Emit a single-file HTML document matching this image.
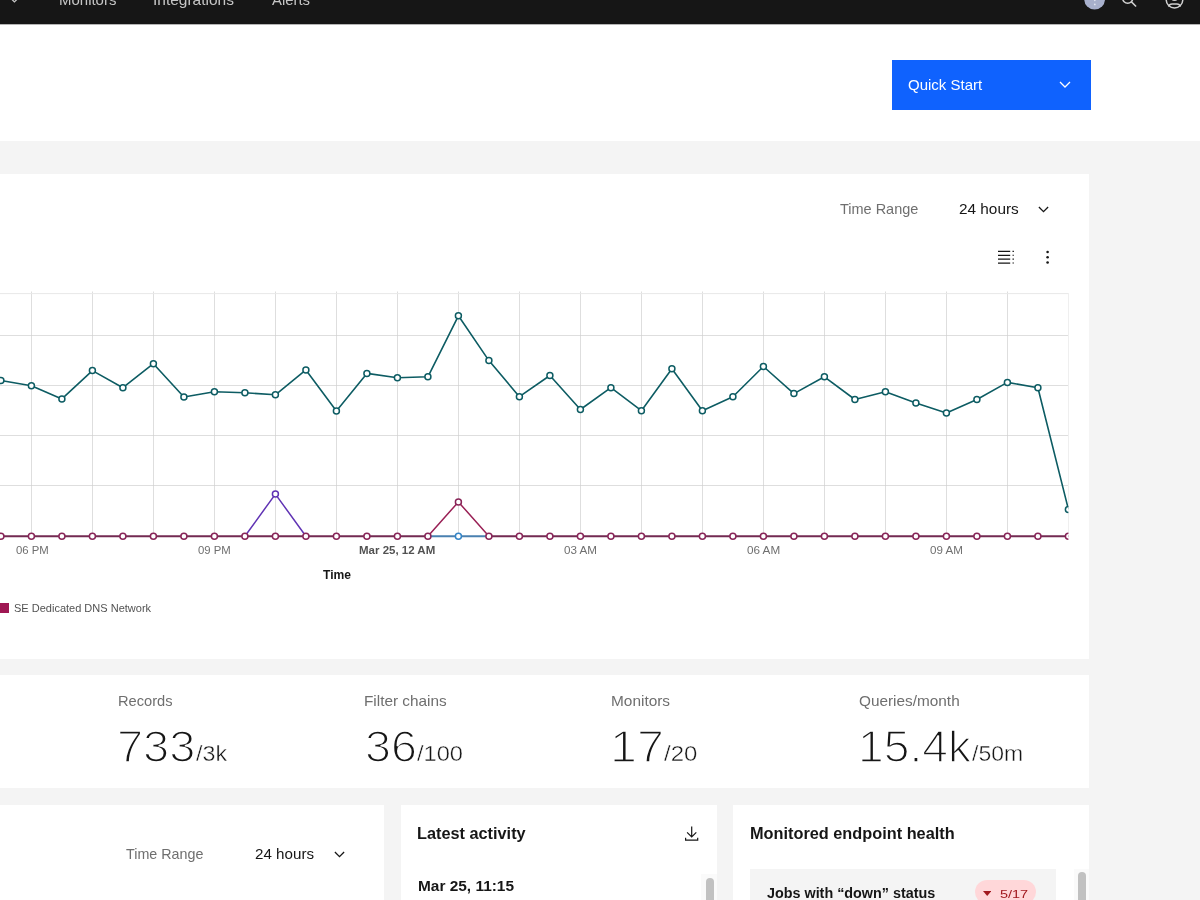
<!DOCTYPE html>
<html lang="en">
<head>
<meta charset="utf-8">
<title>Dashboard</title>
<style>
*{box-sizing:border-box;margin:0;padding:0}
html,body{width:1200px;height:900px;overflow:hidden;background:#f4f4f4;font-family:"Liberation Sans",sans-serif;color:#161616}
.abs{position:absolute}
#page{position:relative;width:1200px;height:900px;overflow:hidden}
.t{position:absolute;white-space:nowrap;line-height:1;transform-origin:0 0}
.hdr{left:0;top:0;width:1200px;height:24px;background:#161616;overflow:hidden}
.band{left:0;top:24px;width:1200px;height:117px;background:#fff}
.qs{left:892px;top:60px;width:199px;height:49.5px;background:#0f62fe}
.card{background:#fff}
</style>
</head>
<body>
<div id="page">
  <div class="abs hdr">
<div class="t" style="left:59.40px;top:-6.97px;font-size:14.5px;color:#c6c6c6;transform:scaleX(1.0326);">Monitors</div>
<div class="t" style="left:153.31px;top:-6.97px;font-size:14.5px;color:#c6c6c6;transform:scaleX(1.0683);">Integrations</div>
<div class="t" style="left:272.20px;top:-6.97px;font-size:14.5px;color:#c6c6c6;transform:scaleX(1.0263);">Alerts</div>

    <svg class="abs" style="left:0;top:0" width="1200" height="25" viewBox="0 0 1200 25">
      <path d="M10.6 -1.9 L14.4 1.9 L18.2 -1.9" fill="none" stroke="#c6c6c6" stroke-width="1.3"/>
      <circle cx="1094.6" cy="-0.8" r="10.4" fill="#a8b0cc"/>
      <circle cx="1094.8" cy="0.4" r="0.8" fill="#dfe3ef"/><circle cx="1094.8" cy="4.4" r="0.9" fill="#dfe3ef"/>
      <circle cx="1127.7" cy="-1.9" r="5.1" fill="none" stroke="#d0d0d0" stroke-width="1.5"/>
      <path d="M1131.2 1.6 L1136.1 6.5" stroke="#d0d0d0" stroke-width="1.5"/>
      <circle cx="1174.5" cy="-0.3" r="8.3" fill="none" stroke="#d0d0d0" stroke-width="1.5"/>
      <circle cx="1174.5" cy="-2.4" r="2.7" fill="none" stroke="#d0d0d0" stroke-width="1.5"/>
      <path d="M1168.7 6.6 Q1169.3 4.1 1172 4.1 H1177 Q1179.7 4.1 1180.3 6.6" fill="none" stroke="#d0d0d0" stroke-width="1.5"/>
    </svg>
  </div>
  <div class="abs band"></div>
  <div class="abs" style="left:0;top:24px;width:1200px;height:1px;background:#b4b4b4"></div>
  <div class="abs qs">
    <svg class="abs" style="left:167px;top:21px" width="12" height="8" viewBox="0 0 12 8"><path d="M1 1 L6 6 L11 1" fill="none" stroke="#fff" stroke-width="1.3"/></svg>
  </div>

  <!-- chart card -->
  <div class="abs card" style="left:0;top:174px;width:1089px;height:485px"></div>
  <svg class="abs" style="left:1037px;top:205px" width="13" height="9" viewBox="0 0 13 9"><path d="M1.9 2 L6.5 6.6 L11.1 2" fill="none" stroke="#161616" stroke-width="1.3"/></svg>
  <svg class="abs" style="left:990px;top:240px" width="70" height="35" viewBox="990 240 70 35">
    <path d="M998 251.4H1010.2M998 255.3H1010.2M998 259.15H1010.2M998 263H1010.2" stroke="#161616" stroke-width="1.25"/>
    <path d="M1012.5 251.4H1013.9M1012.5 255.3H1013.9M1012.5 259.15H1013.9M1012.5 263H1013.9" stroke="#161616" stroke-width="1.1"/>
    <circle cx="1047.6" cy="252" r="1.3" fill="#161616"/><circle cx="1047.6" cy="257.25" r="1.3" fill="#161616"/><circle cx="1047.6" cy="262.5" r="1.3" fill="#161616"/>
  </svg>
  <div class="abs" style="left:0;top:602.6px;width:8.6px;height:10.8px;background:#9f1853"></div>

  <!-- stats -->
  <div class="abs card" style="left:0;top:675px;width:1089px;height:113px"></div>

  <!-- bottom row -->
  <div class="abs card" style="left:0;top:805px;width:384.3px;height:100px"></div>
  <svg class="abs" style="left:332.7px;top:850.2px" width="13" height="9" viewBox="0 0 13 9"><path d="M1.9 2 L6.5 6.6 L11.1 2" fill="none" stroke="#161616" stroke-width="1.3"/></svg>

  <div class="abs card" style="left:401px;top:805px;width:316px;height:100px"></div>
  <svg class="abs" style="left:684px;top:825px" width="16" height="17" viewBox="0 0 16 17"><path d="M7.7 1.4 V11.8 M3.1 7.4 L7.7 12 L12.3 7.4 M1.6 12.8 V15.2 H13.7 V12.8" fill="none" stroke="#161616" stroke-width="1.2"/></svg>
  <div class="abs" style="left:701px;top:874px;width:16px;height:30px;background:#fafafa"></div>
  <div class="abs" style="left:705.5px;top:878px;width:8.5px;height:40px;border-radius:4.25px;background:#c1c1c1"></div>

  <div class="abs card" style="left:733px;top:805px;width:356px;height:100px"></div>
  <div class="abs" style="left:750px;top:868.7px;width:306.3px;height:40px;background:#f4f4f4"></div>
  <div class="abs" style="left:974.6px;top:880px;width:61.8px;height:24.4px;border-radius:12px;background:#ffd7d9"></div>
  <svg class="abs" style="left:983px;top:891.4px" width="8.4" height="5" viewBox="0 0 8.4 5"><path d="M0 0 H8.4 L4.2 5 Z" fill="#a2191f"/></svg>
  <div class="abs" style="left:1073.7px;top:868.7px;width:15px;height:40px;background:#fafafa"></div>
  <div class="abs" style="left:1078px;top:872.2px;width:8px;height:40px;border-radius:4px;background:#c1c1c1"></div>
<svg class="abs" style="left:0;top:0" width="1200" height="900" viewBox="0 0 1200 900">
<defs><clipPath id="cp"><rect x="0" y="280" width="1068.4" height="270"/></clipPath></defs>
<g stroke="#d0d0d0" stroke-width="0.7"><line x1="31.5" y1="291.5" x2="31.5" y2="536"/><line x1="92.5" y1="291.5" x2="92.5" y2="536"/><line x1="153.5" y1="291.5" x2="153.5" y2="536"/><line x1="214.5" y1="291.5" x2="214.5" y2="536"/><line x1="275.5" y1="291.5" x2="275.5" y2="536"/><line x1="336.5" y1="291.5" x2="336.5" y2="536"/><line x1="397.5" y1="291.5" x2="397.5" y2="536"/><line x1="458.5" y1="291.5" x2="458.5" y2="536"/><line x1="519.5" y1="291.5" x2="519.5" y2="536"/><line x1="580.5" y1="291.5" x2="580.5" y2="536"/><line x1="641.5" y1="291.5" x2="641.5" y2="536"/><line x1="702.5" y1="291.5" x2="702.5" y2="536"/><line x1="763.5" y1="291.5" x2="763.5" y2="536"/><line x1="824.5" y1="291.5" x2="824.5" y2="536"/><line x1="885.5" y1="291.5" x2="885.5" y2="536"/><line x1="946.5" y1="291.5" x2="946.5" y2="536"/><line x1="1007.5" y1="291.5" x2="1007.5" y2="536"/><line x1="0" y1="335.5" x2="1068.6" y2="335.5"/><line x1="0" y1="385.5" x2="1068.6" y2="385.5"/><line x1="0" y1="435.5" x2="1068.6" y2="435.5"/><line x1="0" y1="485.5" x2="1068.6" y2="485.5"/></g><line x1="0" y1="293.6" x2="1069" y2="293.6" stroke="#e8e8e8" stroke-width="1"/><line x1="1068.5" y1="293" x2="1068.5" y2="536" stroke="#efefef" stroke-width="1"/>
<g clip-path="url(#cp)"><path d="M-29.6,378 L0.9,380.5 L31.4,385.8 L61.9,398.9 L92.4,370.6 L122.9,387.7 L153.4,363.7 L183.9,397 L214.4,391.7 L244.9,392.7 L275.4,394.8 L305.9,369.9 L336.4,411 L366.9,373.4 L397.4,377.7 L427.9,376.8 L458.4,315.8 L488.9,360.6 L519.4,396.7 L549.9,375.5 L580.4,409.5 L610.9,387.7 L641.4,410.7 L671.9,368.7 L702.4,410.7 L732.9,396.7 L763.4,366.5 L793.9,393.6 L824.4,376.8 L854.9,399.5 L885.4,391.7 L915.9,402.9 L946.4,412.9 L976.9,399.5 L1007.4,382.4 L1037.9,387.7 L1068.4,509.4" fill="none" stroke="#0d5c63" stroke-width="1.6" stroke-linejoin="round"/><g fill="#fff" stroke="#0d5c63" stroke-width="1.5"><circle cx="-29.6" cy="378" r="3"/><circle cx="0.9" cy="380.5" r="3"/><circle cx="31.4" cy="385.8" r="3"/><circle cx="61.9" cy="398.9" r="3"/><circle cx="92.4" cy="370.6" r="3"/><circle cx="122.9" cy="387.7" r="3"/><circle cx="153.4" cy="363.7" r="3"/><circle cx="183.9" cy="397" r="3"/><circle cx="214.4" cy="391.7" r="3"/><circle cx="244.9" cy="392.7" r="3"/><circle cx="275.4" cy="394.8" r="3"/><circle cx="305.9" cy="369.9" r="3"/><circle cx="336.4" cy="411" r="3"/><circle cx="366.9" cy="373.4" r="3"/><circle cx="397.4" cy="377.7" r="3"/><circle cx="427.9" cy="376.8" r="3"/><circle cx="458.4" cy="315.8" r="3"/><circle cx="488.9" cy="360.6" r="3"/><circle cx="519.4" cy="396.7" r="3"/><circle cx="549.9" cy="375.5" r="3"/><circle cx="580.4" cy="409.5" r="3"/><circle cx="610.9" cy="387.7" r="3"/><circle cx="641.4" cy="410.7" r="3"/><circle cx="671.9" cy="368.7" r="3"/><circle cx="702.4" cy="410.7" r="3"/><circle cx="732.9" cy="396.7" r="3"/><circle cx="763.4" cy="366.5" r="3"/><circle cx="793.9" cy="393.6" r="3"/><circle cx="824.4" cy="376.8" r="3"/><circle cx="854.9" cy="399.5" r="3"/><circle cx="885.4" cy="391.7" r="3"/><circle cx="915.9" cy="402.9" r="3"/><circle cx="946.4" cy="412.9" r="3"/><circle cx="976.9" cy="399.5" r="3"/><circle cx="1007.4" cy="382.4" r="3"/><circle cx="1037.9" cy="387.7" r="3"/><circle cx="1068.4" cy="509.4" r="3"/></g><path d="M244.9,536.3 L275.4,494.1 L305.9,536.3" fill="none" stroke="#6033b4" stroke-width="1.5" stroke-linejoin="round"/><path d="M427.9,536.3 L488.9,536.3" fill="none" stroke="#4a80b0" stroke-width="2" stroke-linejoin="round"/><path d="M427.9,536.3 L458.4,501.9 L488.9,536.3" fill="none" stroke="#992055" stroke-width="1.5" stroke-linejoin="round"/><path d="M-29.6,536.3 L427.9,536.3" fill="none" stroke="#732a52" stroke-width="1.9" stroke-linejoin="round"/><path d="M488.9,536.3 L1098.9,536.3" fill="none" stroke="#732a52" stroke-width="1.9" stroke-linejoin="round"/><g fill="#fff" stroke="#6033b4" stroke-width="1.5"><circle cx="275.4" cy="494.1" r="3"/></g><g fill="#fff" stroke="#3585c6" stroke-width="1.5"><circle cx="458.4" cy="536.3" r="3"/></g><g fill="#fff" stroke="#882558" stroke-width="1.5"><circle cx="-29.6" cy="536.3" r="3"/><circle cx="0.9" cy="536.3" r="3"/><circle cx="31.4" cy="536.3" r="3"/><circle cx="61.9" cy="536.3" r="3"/><circle cx="92.4" cy="536.3" r="3"/><circle cx="122.9" cy="536.3" r="3"/><circle cx="153.4" cy="536.3" r="3"/><circle cx="183.9" cy="536.3" r="3"/><circle cx="214.4" cy="536.3" r="3"/><circle cx="244.9" cy="536.3" r="3"/><circle cx="275.4" cy="536.3" r="3"/><circle cx="305.9" cy="536.3" r="3"/><circle cx="336.4" cy="536.3" r="3"/><circle cx="366.9" cy="536.3" r="3"/><circle cx="397.4" cy="536.3" r="3"/><circle cx="427.9" cy="536.3" r="3"/><circle cx="488.9" cy="536.3" r="3"/><circle cx="519.4" cy="536.3" r="3"/><circle cx="549.9" cy="536.3" r="3"/><circle cx="580.4" cy="536.3" r="3"/><circle cx="610.9" cy="536.3" r="3"/><circle cx="641.4" cy="536.3" r="3"/><circle cx="671.9" cy="536.3" r="3"/><circle cx="702.4" cy="536.3" r="3"/><circle cx="732.9" cy="536.3" r="3"/><circle cx="763.4" cy="536.3" r="3"/><circle cx="793.9" cy="536.3" r="3"/><circle cx="824.4" cy="536.3" r="3"/><circle cx="854.9" cy="536.3" r="3"/><circle cx="885.4" cy="536.3" r="3"/><circle cx="915.9" cy="536.3" r="3"/><circle cx="946.4" cy="536.3" r="3"/><circle cx="976.9" cy="536.3" r="3"/><circle cx="1007.4" cy="536.3" r="3"/><circle cx="1037.9" cy="536.3" r="3"/><circle cx="1068.4" cy="536.3" r="3"/><circle cx="458.4" cy="501.9" r="3"/></g></g>
</svg>

<div class="t" style="left:907.73px;top:78.03px;font-size:14.5px;color:#fff;transform:scaleX(1.0341);">Quick Start</div>
<div class="t" style="left:839.71px;top:202.43px;font-size:14.5px;color:#6f6f6f;transform:scaleX(0.9987);">Time Range</div>
<div class="t" style="left:958.83px;top:202.43px;font-size:14.5px;color:#161616;transform:scaleX(1.0585);">24 hours</div>
<div class="t" style="left:15.55px;top:545.07px;font-size:11.5px;color:#6f6f6f;transform:scaleX(0.9875);">06 PM</div>
<div class="t" style="left:198.15px;top:545.07px;font-size:11.5px;color:#6f6f6f;transform:scaleX(0.9875);">09 PM</div>
<div class="t" style="left:564.04px;top:545.07px;font-size:11.5px;color:#6f6f6f;transform:scaleX(1.0107);">03 AM</div>
<div class="t" style="left:747.03px;top:545.07px;font-size:11.5px;color:#6f6f6f;transform:scaleX(1.0172);">06 AM</div>
<div class="t" style="left:930.24px;top:545.07px;font-size:11.5px;color:#6f6f6f;transform:scaleX(1.0075);">09 AM</div>
<div class="t" style="left:359.25px;top:545.07px;font-size:11.5px;color:#525252;transform:scaleX(0.9993);font-weight:bold;">Mar 25, 12 AM</div>
<div class="t" style="left:323.08px;top:567.50px;font-size:13px;color:#161616;transform:scaleX(0.9319);font-weight:bold;">Time</div>
<div class="t" style="left:13.90px;top:602.71px;font-size:11.8px;color:#525252;transform:scaleX(0.9332);">SE Dedicated DNS Network</div>
<div class="t" style="left:117.53px;top:694.43px;font-size:14.5px;color:#6f6f6f;transform:scaleX(1.0106);">Records</div>
<div class="t" style="left:364.17px;top:694.43px;font-size:14.5px;color:#6f6f6f;transform:scaleX(1.0577);">Filter chains</div>
<div class="t" style="left:611.47px;top:694.43px;font-size:14.5px;color:#6f6f6f;transform:scaleX(1.0623);">Monitors</div>
<div class="t" style="left:858.61px;top:694.43px;font-size:14.5px;color:#6f6f6f;transform:scaleX(1.0585);">Queries/month</div>
<div class="t" style="left:117.22px;top:723.91px;font-size:45px;color:#161616;transform:scaleX(1.0437);-webkit-text-stroke:1.6px #fff;">733</div>
<div class="t" style="left:364.60px;top:723.91px;font-size:45px;color:#161616;transform:scaleX(1.0369);-webkit-text-stroke:1.6px #fff;">36</div>
<div class="t" style="left:610.20px;top:723.91px;font-size:45px;color:#161616;transform:scaleX(1.0767);-webkit-text-stroke:1.6px #fff;">17</div>
<div class="t" style="left:857.71px;top:723.91px;font-size:45px;color:#161616;transform:scaleX(1.0281);-webkit-text-stroke:1.6px #fff;">15.4k</div>
<div class="t" style="left:196.48px;top:743.80px;font-size:21.5px;color:#161616;transform:scaleX(1.0812);-webkit-text-stroke:0.4px #fff;">/3k</div>
<div class="t" style="left:416.78px;top:743.80px;font-size:21.5px;color:#161616;transform:scaleX(1.0992);-webkit-text-stroke:0.4px #fff;">/100</div>
<div class="t" style="left:664.18px;top:743.80px;font-size:21.5px;color:#161616;transform:scaleX(1.1137);-webkit-text-stroke:0.4px #fff;">/20</div>
<div class="t" style="left:971.59px;top:743.80px;font-size:21.5px;color:#161616;transform:scaleX(1.0686);-webkit-text-stroke:0.4px #fff;">/50m</div>
<div class="t" style="left:125.96px;top:847.33px;font-size:14.5px;color:#6f6f6f;transform:scaleX(0.9864);">Time Range</div>
<div class="t" style="left:254.64px;top:847.33px;font-size:14.5px;color:#161616;transform:scaleX(1.0458);">24 hours</div>
<div class="t" style="left:417.44px;top:825.56px;font-size:16px;color:#161616;transform:scaleX(1.0180);font-weight:bold;">Latest activity</div>
<div class="t" style="left:417.50px;top:879.92px;font-size:13.8px;color:#161616;transform:scaleX(1.1174);font-weight:bold;">Mar 25, 11:15</div>
<div class="t" style="left:749.54px;top:825.56px;font-size:16px;color:#161616;transform:scaleX(1.0187);font-weight:bold;">Monitored endpoint health</div>

<div class="t" style="left:767.28px;top:887.22px;font-size:13.8px;color:#161616;transform:scaleX(1.0399);font-weight:bold;">Jobs with “down” status</div>
<div class="t" style="left:999.67px;top:889.01px;font-size:11.8px;color:#a2191f;transform:scaleX(1.2266);">5/17</div>

</div>
</body>
</html>
